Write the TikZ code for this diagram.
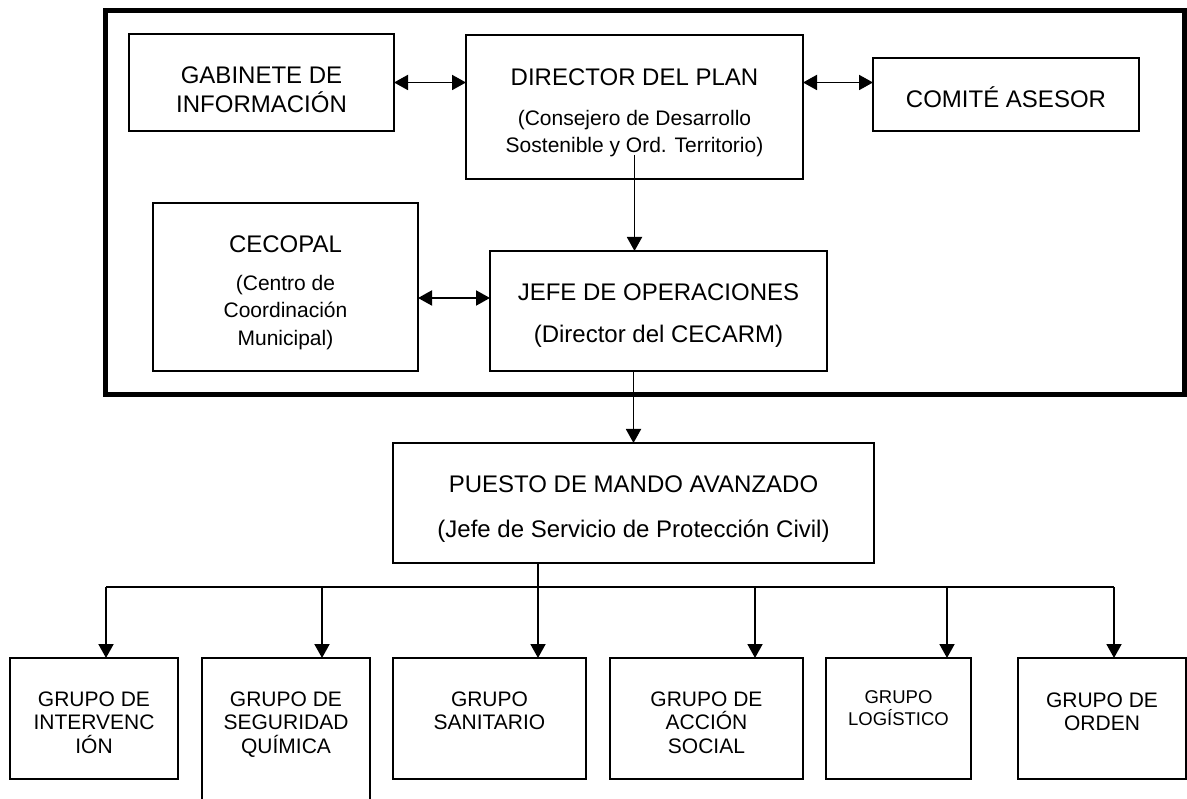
\documentclass[tikz,border=0pt]{standalone}
\usepackage{fontspec}
\setmainfont{Liberation Sans}
\usetikzlibrary{arrows.meta,calc}
\newcommand\myst{\rule{0pt}{1em}}
\begin{document}
\begin{tikzpicture}[x=1pt,y=-1pt,
  box/.style={draw, line width=2pt, inner sep=0pt, outer sep=0pt, rectangle},
  framebox/.style={draw, line width=5pt, inner sep=0pt, outer sep=0pt, rectangle},
  txt/.style={inner sep=0pt, anchor=north, align=center},
  conn/.style={line width=1.9pt},
  arr/.style={conn, -{Triangle[length=14pt,width=15pt]}},
  darr/.style={conn, {Triangle[length=14pt,width=15pt]}-{Triangle[length=14pt,width=15pt]}}]
\useasboundingbox (0,0) rectangle (1187,799);
\clip (0,0) rectangle (1187,799);
\fill[white] (0,0) rectangle (1187,799);

% outer frame
\node[framebox, minimum width=1079pt, minimum height=384.5pt] (frame) at (645,202.75) {};

% boxes
\node[box, minimum width=265pt, minimum height=97pt]  (gab)  at (261.5,82.5) {};
\node[box, minimum width=337pt, minimum height=144pt] (dir)  at (634.5,107) {};
\node[box, minimum width=266pt, minimum height=73pt]  (com)  at (1006,94.5) {};
\node[box, minimum width=265pt, minimum height=168pt] (cec)  at (285.5,287) {};
\node[box, minimum width=337pt, minimum height=120pt] (jefe) at (658.5,311) {};
\node[box, minimum width=481pt, minimum height=120pt] (pma)  at (633.5,503) {};
\node[box, minimum width=168pt, minimum height=121pt] (g1) at (94,718.5) {};
\node[box, minimum width=168pt, minimum height=152pt] (g2) at (286,734) {};
\node[box, minimum width=193pt, minimum height=121pt] (g3) at (489.5,718.5) {};
\node[box, minimum width=193pt, minimum height=121pt] (g4) at (706.5,718.5) {};
\node[box, minimum width=145pt, minimum height=121pt] (g5) at (898.5,718.5) {};
\node[box, minimum width=168pt, minimum height=121pt] (g6) at (1102,718.5) {};

% texts
\node[txt, font=\fontsize{24}{29}\selectfont] (gabT) at (261.5,59) {\myst GABINETE DE\\INFORMACIÓN};
\node[txt, font=\fontsize{24}{29}\selectfont] (dirT) at (634.5,61) {\myst DIRECTOR DEL PLAN};
\node[txt, font=\fontsize{21}{27}\selectfont] (dirS) at (634.5,104) {\myst (Consejero de Desarrollo\\Sostenible y Ord. Territorio)};
\node[txt, font=\fontsize{24}{29}\selectfont] (comT) at (1006,83) {\myst COMITÉ ASESOR};
\node[txt, font=\fontsize{24}{29}\selectfont] (cecT) at (285.5,228) {\myst CECOPAL};
\node[txt, font=\fontsize{21}{27.5}\selectfont] (cecS) at (285.5,269) {\myst (Centro de\\Coordinación\\Municipal)};
\node[txt, font=\fontsize{24}{29}\selectfont] (jefeT) at (658.5,276) {\myst JEFE DE OPERACIONES};
\node[txt, font=\fontsize{24}{29}\selectfont] (jefeS) at (658.5,318) {\myst (Director del CECARM)};
\node[txt, font=\fontsize{24}{29}\selectfont] (pmaT) at (633.5,468) {\myst PUESTO DE MANDO AVANZADO};
\node[txt, font=\fontsize{24}{29}\selectfont] (pmaS) at (633.5,513) {\myst (Jefe de Servicio de Protección Civil)};
\node[txt, font=\fontsize{21}{23.5}\selectfont] (g1T) at (94,685) {\myst GRUPO DE\\INTERVENC\\IÓN};
\node[txt, font=\fontsize{21}{23.5}\selectfont] (g2T) at (286,685) {\myst GRUPO DE\\SEGURIDAD\\QUÍMICA};
\node[txt, font=\fontsize{21}{23.5}\selectfont] (g3T) at (489.5,685) {\myst GRUPO\\SANITARIO};
\node[txt, font=\fontsize{21}{23.5}\selectfont] (g4T) at (706.5,685) {\myst GRUPO DE\\ACCIÓN\\SOCIAL};
\node[txt, font=\fontsize{18.5}{22}\selectfont] (g5T) at (898.5,684.5) {\myst GRUPO\\LOGÍSTICO};
\node[txt, font=\fontsize{21}{23}\selectfont] (g6T) at (1102,686) {\myst GRUPO DE\\ORDEN};

% connectors in the frame
\draw[darr] (gab.east) -- (gab.east -| dir.west);
\draw[darr] (dir.east |- gab.east) -- (com.west |- gab.east);
\coordinate (cj) at (0,298);
\draw[darr] (cec.east |- cj) -- (jefe.west |- cj);
\draw[arr] ($(dir.south)+(0,-24)$) -- (dir.south |- jefe.north);
\draw[arr] (pma.north |- jefe.south) -- (pma.north);

% bus
\coordinate (b1) at (106,587);
\coordinate (b2) at (322,587);
\coordinate (b3) at (538,587);
\coordinate (b4) at (755,587);
\coordinate (b5) at (947,587);
\coordinate (b6) at (1114,587);
\draw[conn] (pma.south -| b3) -- (b3);
\draw[conn] (b1) -- (b6);
\draw[arr] (b1) -- (b1 |- g1.north);
\draw[arr] (b2) -- (b2 |- g2.north);
\draw[arr] (b3) -- (b3 |- g3.north);
\draw[arr] (b4) -- (b4 |- g4.north);
\draw[arr] (b5) -- (b5 |- g5.north);
\draw[arr] (b6) -- (b6 |- g6.north);
\end{tikzpicture}
\end{document}
